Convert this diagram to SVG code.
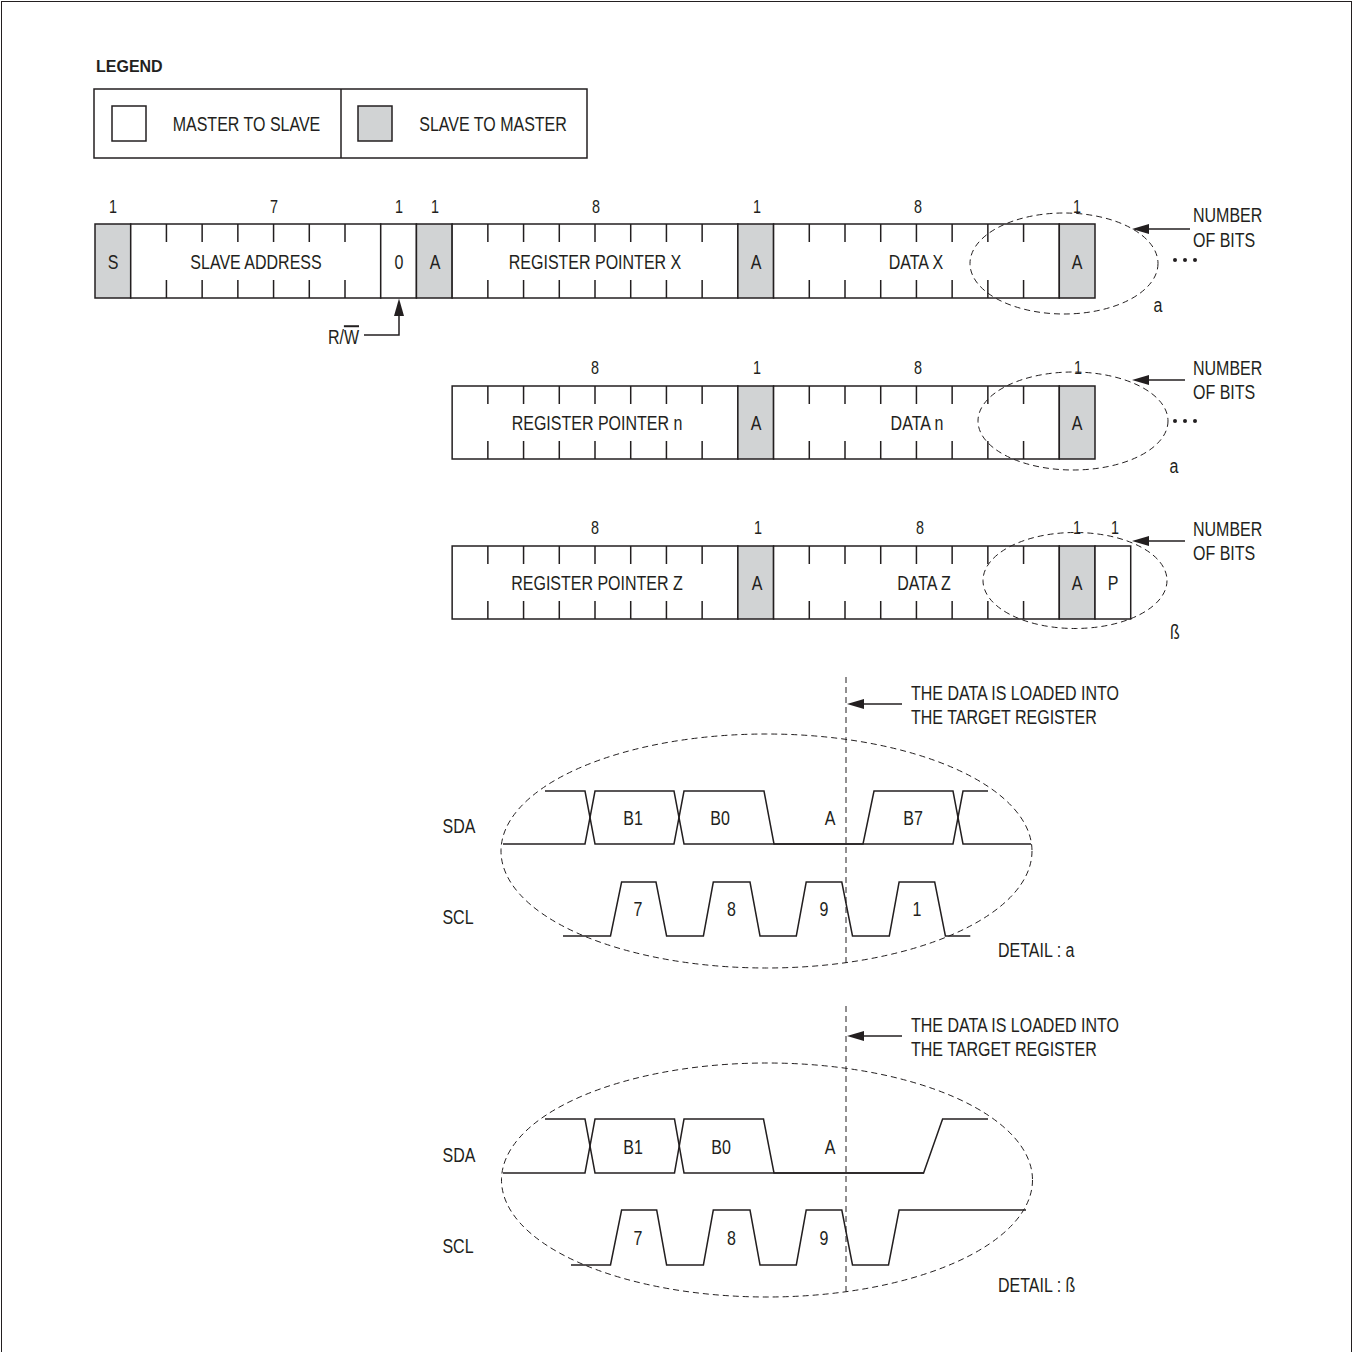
<svg xmlns="http://www.w3.org/2000/svg" width="1354" height="1352" viewBox="0 0 1354 1352">
<style>
.box{fill:#fff;stroke:#231f20;stroke-width:1.5}
.gray{fill:#d1d3d4;stroke:#231f20;stroke-width:1.5}
.tick{fill:none;stroke:#231f20;stroke-width:1.5}
.dash{fill:none;stroke:#231f20;stroke-width:1;stroke-dasharray:6 4}
.wave{fill:none;stroke:#231f20;stroke-width:1.5}
.ln{fill:none;stroke:#231f20;stroke-width:1.5}
.hd{fill:#231f20;stroke:none}
.t{font-family:"Liberation Sans",Arial,sans-serif;font-size:20px;fill:#231f20}
.n{font-size:18px}
.m{text-anchor:middle}
.e{text-anchor:end}
</style>
<rect x="1.5" y="1.5" width="1350" height="1400" fill="#fff" stroke="#231f20" stroke-width="1"/>

<g id="legend">
<text x="96" y="72" font-family="Liberation Sans, Arial, sans-serif" font-size="16" font-weight="bold" fill="#231f20">LEGEND</text>
<rect class="box" x="94" y="89" width="493" height="69"/>
<line class="ln" x1="341" y1="89" x2="341" y2="158"/>
<rect class="box" x="112" y="106" width="34" height="35"/>
<rect class="gray" x="358" y="106" width="34" height="35"/>
<text class="t m" transform="translate(246.5,131) scale(0.8,1)">MASTER TO SLAVE</text>
<text class="t m" transform="translate(493,131) scale(0.8,1)">SLAVE TO MASTER</text>
</g>

<g id="row1">
<rect class="gray" x="95" y="224" width="35.71" height="74"/>
<rect class="box" x="130.71" y="224" width="250" height="74"/>
<rect class="box" x="380.71" y="224" width="35.72" height="74"/>
<rect class="gray" x="416.43" y="224" width="35.71" height="74"/>
<rect class="box" x="452.14" y="224" width="285.72" height="74"/>
<rect class="gray" x="737.86" y="224" width="35.71" height="74"/>
<rect class="box" x="773.57" y="224" width="285.72" height="74"/>
<rect class="gray" x="1059.29" y="224" width="35.71" height="74"/>
<path class="tick" d="M166.43,224V242M202.14,224V242M237.86,224V242M273.57,224V242M309.29,224V242M345,224V242M166.43,280V298M202.14,280V298M237.86,280V298M273.57,280V298M309.29,280V298M345,280V298
M487.86,224V242M523.57,224V242M559.29,224V242M595,224V242M630.71,224V242M666.43,224V242M702.14,224V242M487.86,280V298M523.57,280V298M559.29,280V298M595,280V298M630.71,280V298M666.43,280V298M702.14,280V298
M809.29,224V242M845,224V242M880.71,224V242M916.43,224V242M952.14,224V242M987.86,224V242M1023.57,224V242M809.29,280V298M845,280V298M880.71,280V298M916.43,280V298M952.14,280V298M987.86,280V298M1023.57,280V298"/>
<g class="t n m">
<text transform="translate(113,213) scale(0.8,1)">1</text>
<text transform="translate(274,213) scale(0.8,1)">7</text>
<text transform="translate(399,213) scale(0.8,1)">1</text>
<text transform="translate(435,213) scale(0.8,1)">1</text>
<text transform="translate(596,213) scale(0.8,1)">8</text>
<text transform="translate(757,213) scale(0.8,1)">1</text>
<text transform="translate(918,213) scale(0.8,1)">8</text>
<text transform="translate(1077,213) scale(0.8,1)">1</text>
</g>
<g class="t m">
<text transform="translate(113,269) scale(0.8,1)">S</text>
<text transform="translate(256,269) scale(0.8,1)">SLAVE ADDRESS</text>
<text transform="translate(399,269) scale(0.8,1)">0</text>
<text transform="translate(435,269) scale(0.8,1)">A</text>
<text transform="translate(595,269) scale(0.8,1)">REGISTER POINTER X</text>
<text transform="translate(756,269) scale(0.8,1)">A</text>
<text transform="translate(916,269) scale(0.8,1)">DATA X</text>
<text transform="translate(1077,269) scale(0.8,1)">A</text>
</g>
<ellipse class="dash" cx="1064" cy="263.5" rx="94" ry="50.5"/>
<text class="t" transform="translate(1193,221.5) scale(0.8,1)">NUMBER</text>
<text class="t" transform="translate(1193,246.5) scale(0.8,1)">OF BITS</text>
<circle cx="1175" cy="260" r="2" class="hd"/><circle cx="1185" cy="260" r="2" class="hd"/><circle cx="1195" cy="260" r="2" class="hd"/>
<text class="t m" transform="translate(1158,312) scale(0.8,1)">a</text>
<text class="t e" transform="translate(359,344) scale(0.8,1)">R/<tspan text-decoration="overline">W</tspan></text>
</g>

<g id="row2">
<rect class="box" x="452.14" y="386" width="285.72" height="73"/>
<rect class="gray" x="737.86" y="386" width="35.71" height="73"/>
<rect class="box" x="773.57" y="386" width="285.72" height="73"/>
<rect class="gray" x="1059.29" y="386" width="35.71" height="73"/>
<path class="tick" d="M487.86,386V404M523.57,386V404M559.29,386V404M595,386V404M630.71,386V404M666.43,386V404M702.14,386V404M487.86,441V459M523.57,441V459M559.29,441V459M595,441V459M630.71,441V459M666.43,441V459M702.14,441V459
M809.29,386V404M845,386V404M880.71,386V404M916.43,386V404M952.14,386V404M987.86,386V404M1023.57,386V404M809.29,441V459M845,441V459M880.71,441V459M916.43,441V459M952.14,441V459M987.86,441V459M1023.57,441V459"/>
<g class="t n m">
<text transform="translate(595,374) scale(0.8,1)">8</text>
<text transform="translate(757,374) scale(0.8,1)">1</text>
<text transform="translate(918,374) scale(0.8,1)">8</text>
<text transform="translate(1078,374) scale(0.8,1)">1</text>
</g>
<g class="t m">
<text transform="translate(597,429.5) scale(0.8,1)">REGISTER POINTER n</text>
<text transform="translate(756,429.5) scale(0.8,1)">A</text>
<text transform="translate(917,429.5) scale(0.8,1)">DATA n</text>
<text transform="translate(1077,429.5) scale(0.8,1)">A</text>
</g>
<ellipse class="dash" cx="1073" cy="421" rx="95" ry="49"/>
<text class="t" transform="translate(1193,374.5) scale(0.8,1)">NUMBER</text>
<text class="t" transform="translate(1193,398.5) scale(0.8,1)">OF BITS</text>
<circle cx="1175" cy="421" r="2" class="hd"/><circle cx="1185" cy="421" r="2" class="hd"/><circle cx="1195" cy="421" r="2" class="hd"/>
<text class="t m" transform="translate(1174,473) scale(0.8,1)">a</text>
</g>

<g id="row3">
<rect class="box" x="452.14" y="546" width="285.72" height="73"/>
<rect class="gray" x="737.86" y="546" width="35.71" height="73"/>
<rect class="box" x="773.57" y="546" width="285.72" height="73"/>
<rect class="gray" x="1059.29" y="546" width="35.71" height="73"/>
<rect class="box" x="1095" y="546" width="35.71" height="73"/>
<path class="tick" d="M487.86,546V564M523.57,546V564M559.29,546V564M595,546V564M630.71,546V564M666.43,546V564M702.14,546V564M487.86,601V619M523.57,601V619M559.29,601V619M595,601V619M630.71,601V619M666.43,601V619M702.14,601V619
M809.29,546V564M845,546V564M880.71,546V564M916.43,546V564M952.14,546V564M987.86,546V564M1023.57,546V564M809.29,601V619M845,601V619M880.71,601V619M916.43,601V619M952.14,601V619M987.86,601V619M1023.57,601V619"/>
<g class="t n m">
<text transform="translate(595,534) scale(0.8,1)">8</text>
<text transform="translate(758,534) scale(0.8,1)">1</text>
<text transform="translate(920,534) scale(0.8,1)">8</text>
<text transform="translate(1077,534) scale(0.8,1)">1</text>
<text transform="translate(1115,534) scale(0.8,1)">1</text>
</g>
<g class="t m">
<text transform="translate(597,589.5) scale(0.8,1)">REGISTER POINTER Z</text>
<text transform="translate(757,589.5) scale(0.8,1)">A</text>
<text transform="translate(924,589.5) scale(0.8,1)">DATA Z</text>
<text transform="translate(1077,589.5) scale(0.8,1)">A</text>
<text transform="translate(1113,589.5) scale(0.8,1)">P</text>
</g>
<ellipse class="dash" cx="1075" cy="580.5" rx="92" ry="48"/>
<text class="t" transform="translate(1193,535.5) scale(0.8,1)">NUMBER</text>
<text class="t" transform="translate(1193,559.5) scale(0.8,1)">OF BITS</text>
<text class="t m" transform="translate(1175,639) scale(0.8,1)">ß</text>
</g>

<g id="detail-a">
<line class="dash" x1="846" y1="677" x2="846" y2="967"/>
<ellipse class="dash" cx="766.5" cy="851" rx="265.5" ry="117"/>
<text class="t" transform="translate(911,700) scale(0.8,1)">THE DATA IS LOADED INTO</text>
<text class="t" transform="translate(911,724) scale(0.8,1)">THE TARGET REGISTER</text>
<path class="wave" d="M545,791H585L595,844H674L684,791H764L774,844H863L874,791H953L963,844H1031"/>
<path class="wave" d="M503,844H585L595,791H674L684,844H953L963,791H988"/>
<path class="wave" d="M563,936H610.5L621.6,882H656L666.6,936H703.4L713.3,882H750L760,936H796.3L806.2,882H841.8L852.5,936H889.3L899.1,882H934.7L945.4,936H970.3"/>
<g class="t m">
<text transform="translate(459,833) scale(0.8,1)">SDA</text>
<text transform="translate(458,924) scale(0.8,1)">SCL</text>
<text transform="translate(633,825) scale(0.8,1)">B1</text>
<text transform="translate(720,825) scale(0.8,1)">B0</text>
<text transform="translate(830,825) scale(0.8,1)">A</text>
<text transform="translate(913,825) scale(0.8,1)">B7</text>
<text transform="translate(638,916) scale(0.8,1)">7</text>
<text transform="translate(731.5,916) scale(0.8,1)">8</text>
<text transform="translate(824,916) scale(0.8,1)">9</text>
<text transform="translate(917,916) scale(0.8,1)">1</text>
</g>
<text class="t" transform="translate(998,957) scale(0.8,1)">DETAIL : a</text>
</g>

<g id="detail-b">
<line class="dash" x1="846" y1="1006" x2="846" y2="1292"/>
<ellipse class="dash" cx="767" cy="1180" rx="265.5" ry="117"/>
<text class="t" transform="translate(911,1032) scale(0.8,1)">THE DATA IS LOADED INTO</text>
<text class="t" transform="translate(911,1056) scale(0.8,1)">THE TARGET REGISTER</text>
<path class="wave" d="M545,1119H585L595,1173H674.5L684,1119H763.5L774,1173H923.6L942.6,1119H988"/>
<path class="wave" d="M503,1173H585L595,1119H674.5L684,1173H924"/>
<path class="wave" d="M571,1265H610.5L621.6,1210H656.7L666.6,1265H703.4L713.3,1210H750L760,1265H796.3L806.2,1210H841.8L852.5,1265H888.5L899.1,1210H1026"/>
<g class="t m">
<text transform="translate(459,1162) scale(0.8,1)">SDA</text>
<text transform="translate(458,1253) scale(0.8,1)">SCL</text>
<text transform="translate(633,1153.5) scale(0.8,1)">B1</text>
<text transform="translate(721,1153.5) scale(0.8,1)">B0</text>
<text transform="translate(830,1153.5) scale(0.8,1)">A</text>
<text transform="translate(638,1245) scale(0.8,1)">7</text>
<text transform="translate(731.5,1245) scale(0.8,1)">8</text>
<text transform="translate(824,1245) scale(0.8,1)">9</text>
</g>
<text class="t" transform="translate(998,1292) scale(0.8,1)">DETAIL : ß</text>
</g>

<g id="connectors">
<path class="ln" d="M364,335H399V314"/>
<polygon class="hd" points="399,298.5 394,316 404,316"/>
<line class="ln" x1="1148" y1="229" x2="1190" y2="229"/>
<polygon class="hd" points="1132,229 1149,224 1149,234"/>
<line class="ln" x1="1148" y1="380" x2="1185" y2="380"/>
<polygon class="hd" points="1132,380 1149,375 1149,385"/>
<line class="ln" x1="1148" y1="541" x2="1185" y2="541"/>
<polygon class="hd" points="1132,541 1149,536 1149,546"/>
<line class="ln" x1="862" y1="704" x2="902" y2="704"/>
<polygon class="hd" points="847,704 864,699 864,709"/>
<line class="ln" x1="862" y1="1036" x2="902" y2="1036"/>
<polygon class="hd" points="847,1036 864,1031 864,1041"/>
</g>
</svg>
